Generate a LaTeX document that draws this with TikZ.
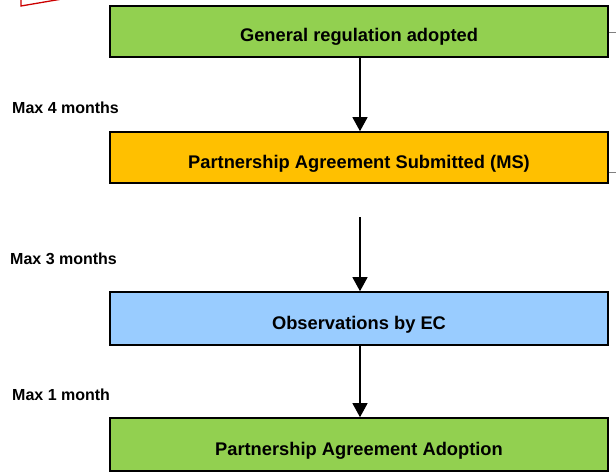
\documentclass[tikz,border=0pt]{standalone}
\usepackage{fontspec}
\setmainfont{Liberation Sans}
\usetikzlibrary{arrows.meta}
\begin{document}
\begin{tikzpicture}[x=1pt,y=-1pt,
  stage/.style={draw=black,line width=1.6pt,minimum width=498pt,inner sep=0pt,
    text height=21pt,text depth=0pt,
    font=\fontsize{18.3}{21}\selectfont\bfseries},
  period/.style={anchor=west,inner sep=0pt,font=\fontsize{16}{18}\selectfont\bfseries},
  flow/.style={line width=1.2pt,-{Triangle[width=15pt,length=14pt]}},
  side/.style={draw=gray,line width=0.8pt}]
\useasboundingbox (0,0) rectangle (616,476);
% stages
\node[stage,fill={rgb,255:red,146;green,208;blue,80},minimum height=51pt] (gen) at (359,31.5) {General regulation adopted};
\node[stage,fill={rgb,255:red,255;green,192;blue,0},minimum height=51pt] (sub) at (359,157.5) {Partnership Agreement Submitted (MS)};
\node[stage,fill={rgb,255:red,153;green,204;blue,255},minimum height=53pt] (obs) at (359,318.5) {Observations by EC};
\node[stage,fill={rgb,255:red,146;green,208;blue,80},minimum height=53pt] (adp) at (359,444.5) {Partnership Agreement Adoption};
% periods
\node[period] (p1) at (12,108) {Max 4 months};
\node[period] (p2) at (10,259) {Max 3 months};
\node[period] (p3) at (12,395) {Max 1 month};
% connectors
\coordinate (c2) at (360,217);
\draw[flow] (gen.south -| c2) -- (sub.north -| c2);
\draw[flow] (c2) -- (obs.north -| c2);
\draw[flow] (obs.south -| c2) -- (adp.north -| c2);
% stubs on the right
\coordinate (r1) at (616,32);
\coordinate (r2) at (616,172);
\draw[side] (gen.east |- r1) -- (r1);
\draw[side] (sub.east |- r2) -- (r2);
% red frame corner at the top left
\draw[red!80!black,line width=1.3pt] (21,-2) -- (21,6) -- (62,-1);
\end{tikzpicture}
\end{document}
